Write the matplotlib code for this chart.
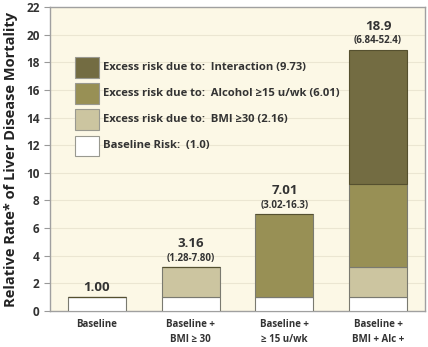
import numpy as np
import matplotlib.pyplot as plt
from matplotlib.patches import Rectangle

plt.rcParams['font.family'] = ['Open Sans', 'DejaVu Sans']

categories = ['Baseline', 'Baseline +\nBMI ≥ 30', 'Baseline +\n≥ 15 u/wk',
              'Baseline +\nBMI + Alc +\nInteraction']
baseline = [1.0, 1.0, 1.0, 1.0]
bmi = [0, 2.16, 0, 2.16]
alcohol = [0, 0, 6.01, 6.01]
interaction = [0, 0, 0, 9.73]
totals = ['1.00', '3.16', '7.01', '18.9']
ci = ['', '(1.28-7.80)', '(3.02-16.3)', '(6.84-52.4)']

legend_labels = ['Excess risk due to:  Interaction (9.73)',
                 'Excess risk due to:  Alcohol ≥15 u/wk (6.01)',
                 'Excess risk due to:  BMI ≥30 (2.16)',
                 'Baseline Risk:  (1.0)']

c_base = '#ffffff'
c_bmi = '#ccc5a0'
c_alc = '#989055'
c_int = '#736c42'

fig = plt.figure(figsize=(4.28, 3.47), dpi=100)
ax = fig.add_axes([50/428, 36/347, 375/428, 304/347])
ax.set_facecolor('#fcf8e6')

x = np.arange(len(categories))
w = 0.62
ec = '#7a7a70'
b0 = np.array(baseline)
b1 = b0 + np.array(bmi)
b2 = b1 + np.array(alcohol)
ax.bar(x, baseline, w, color=c_base, edgecolor=ec, lw=0.8, zorder=3)
ax.bar(x, bmi, w, bottom=b0, color=c_bmi, edgecolor=ec, lw=0.8, zorder=3)
ax.bar(x, alcohol, w, bottom=b1, color=c_alc, edgecolor=ec, lw=0.8, zorder=3)
ax.bar(x, interaction, w, bottom=b2, color=c_int, edgecolor='#55502f', lw=0.8, zorder=3)

tops = b2 + np.array(interaction)
for i in range(len(x)):
    if ci[i]:
        ax.text(x[i], tops[i] + 0.25, ci[i], ha='center', va='bottom',
                fontsize=7, fontweight='bold', color='#333333')
        ax.text(x[i], tops[i] + 1.25, totals[i], ha='center', va='bottom',
                fontsize=9.5, fontweight='bold', color='#333333')
    else:
        ax.text(x[i], tops[i] + 0.25, totals[i], ha='center', va='bottom',
                fontsize=9.5, fontweight='bold', color='#333333')

# legend drawn by hand as boxes and text
leg_colors = [c_int, c_alc, c_bmi, c_base]
leg_y = [17.6, 15.75, 13.85, 11.95]
for col, yy, lab in zip(leg_colors, leg_y, legend_labels):
    ax.add_patch(Rectangle((-0.235, yy - 0.75), 0.255, 1.5, facecolor=col,
                           edgecolor='#999990', lw=0.8, zorder=4))
    ax.text(0.07, yy, lab, va='center', ha='left', fontsize=8.1,
            fontweight='bold', color='#333333', zorder=4)

ax.set_xlim(-0.5, 3.5)
ax.set_ylim(0, 22)
ax.set_yticks(np.arange(0, 23, 2))
ax.set_xticks(x)
ax.set_xticklabels(categories, fontsize=7, fontweight='bold', color='#333333',
                   linespacing=1.4, va='top')
ax.tick_params(axis='x', length=0, pad=6)
ax.tick_params(axis='y', length=4, color='#999999', labelsize=8.5, labelcolor='#333333')
for t in ax.get_yticklabels():
    t.set_fontweight('bold')
ax.yaxis.grid(True, color='#ebe6d2', lw=0.8, zorder=0)
for s in ax.spines.values():
    s.set_color('#a0a0a0')
    s.set_linewidth(1.0)
ax.set_ylabel('Relative Rate* of Liver Disease Mortality', fontsize=10.5,
              fontweight='bold', color='#222222', labelpad=6)

fig.savefig('out.png', dpi=100)
